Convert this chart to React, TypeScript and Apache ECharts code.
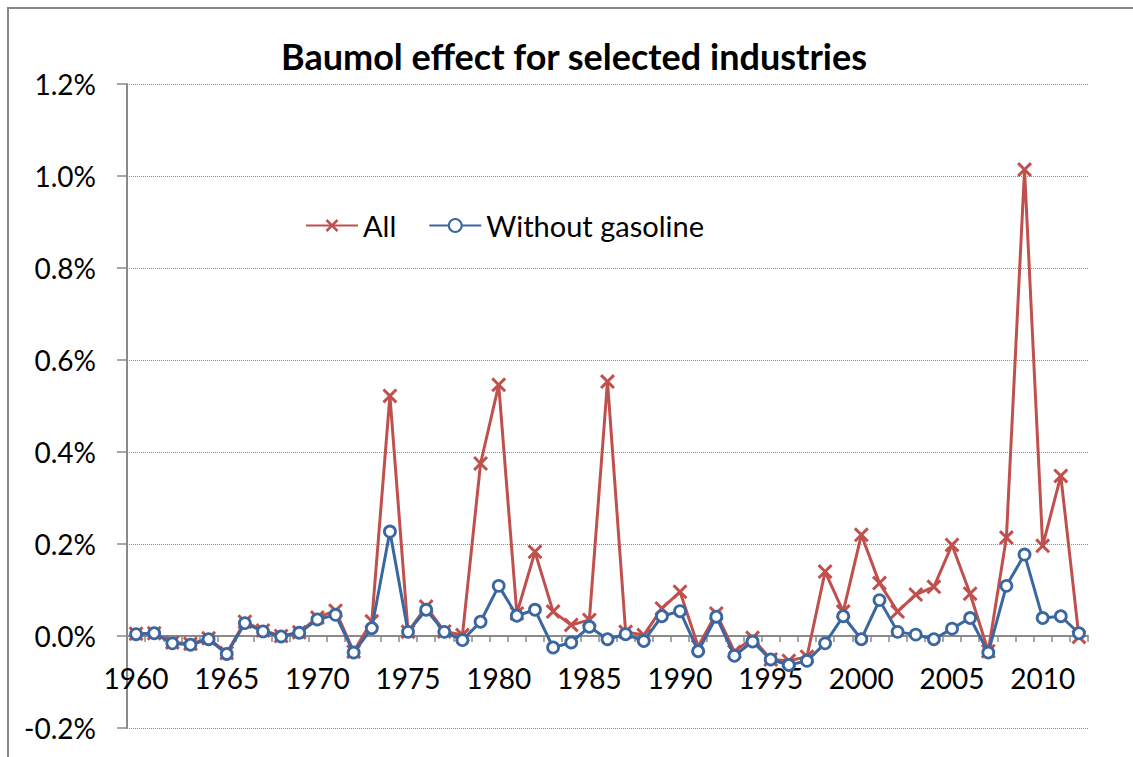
import React, { useEffect, useRef } from "react";
import * as echarts from "echarts";

const years: string[] = [];
for (let y = 1960; y <= 2012; y++) years.push(String(y));

const allValues = [
  0.005, 0.006, -0.014, -0.017, -0.005, -0.037, 0.031, 0.012, 0.0, 0.008,
  0.04, 0.055, -0.034, 0.032, 0.522, 0.009, 0.064, 0.01, 0.002, 0.375,
  0.546, 0.049, 0.183, 0.053, 0.024, 0.035, 0.553, 0.009, 0.002, 0.06,
  0.096, -0.023, 0.049, -0.034, -0.004, -0.051, -0.054, -0.045, 0.14, 0.053,
  0.22, 0.115, 0.053, 0.09, 0.107, 0.198, 0.092, -0.033, 0.214, 1.014,
  0.196, 0.348, -0.002,
];

const withoutGasoline = [
  0.004, 0.006, -0.016, -0.019, -0.007, -0.039, 0.028, 0.01, -0.001, 0.007,
  0.036, 0.046, -0.036, 0.017, 0.227, 0.009, 0.057, 0.009, -0.009, 0.031,
  0.109, 0.044, 0.057, -0.025, -0.014, 0.02, -0.007, 0.004, -0.011, 0.043,
  0.054, -0.033, 0.042, -0.043, -0.012, -0.051, -0.063, -0.054, -0.016, 0.043,
  -0.007, 0.078, 0.009, 0.003, -0.007, 0.016, 0.039, -0.036, 0.109, 0.177,
  0.039, 0.043, 0.006,
];

const seriesNames = ["All", "Without gasoline"];
const titleText = "Baumol effect for selected industries";

const RED = "#C0504D";
const BLUE = "#3A67A0";
const FONT = "Lato";

const X_SYMBOL =
  "path://M0,1.4L1.4,0L5,3.6L8.6,0L10,1.4L6.4,5L10,8.6L8.6,10L5,6.4L1.4,10L0,8.6L3.6,5Z";

// grid geometry: 0% lies 1/7 of the plot height above the bottom
const GRID_TOP = 84;
const GRID_BOTTOM = 29;
const PLOT_H = 757 - GRID_TOP - GRID_BOTTOM;

export default function App() {
  const ref = useRef<HTMLDivElement>(null);

  useEffect(() => {
    if (!ref.current) return;
    const chart = echarts.init(ref.current, null, { renderer: "svg" });
    chart.setOption({
      animation: false,
      backgroundColor: "#ffffff",
      textStyle: { fontFamily: FONT },
      title: {
        text: titleText,
        left: 276,
        top: 33,
        textStyle: {
          fontFamily: FONT,
          fontWeight: "bold",
          fontSize: 36,
          color: "#000000",
        },
      },
      graphic: [
        {
          type: "rect",
          shape: { x: 8, y: 8, width: 1300, height: 900 },
          style: { fill: "none", stroke: "#888888", lineWidth: 2 },
          silent: true,
          z: -1,
        },
      ],
      legend: {
        left: 300,
        top: 206,
        itemWidth: 52,
        itemHeight: 16,
        itemGap: 32,
        textStyle: { fontFamily: FONT, fontSize: 29, color: "#000000" },
        data: seriesNames,
      },
      grid: {
        left: 127,
        right: 45,
        top: GRID_TOP,
        bottom: GRID_BOTTOM,
        containLabel: false,
        outerBoundsMode: "none",
      },
      xAxis: {
        type: "category",
        data: years,
        boundaryGap: true,
        offset: -PLOT_H / 7,
        axisLine: { onZero: false, lineStyle: { color: "#8a8a8a", width: 2 } },
        axisTick: {
          show: true,
          interval: 0,
          length: 6,
          lineStyle: { color: "#8a8a8a", width: 1.5 },
        },
        axisLabel: {
          interval: 4,
          margin: 28,
          fontFamily: FONT,
          fontSize: 28,
          color: "#000000",
        },
        splitLine: { show: false },
      },
      yAxis: {
        type: "value",
        min: -0.2,
        max: 1.2,
        interval: 0.2,
        axisLine: { show: true, lineStyle: { color: "#8a8a8a", width: 2 } },
        axisTick: { show: true, length: 10, lineStyle: { color: "#8a8a8a", width: 1.5 } },
        axisLabel: {
          margin: 31,
          fontFamily: FONT,
          fontSize: 28,
          color: "#000000",
          formatter: (v: number) => v.toFixed(1) + "%",
        },
        splitLine: {
          show: true,
          lineStyle: { color: "#8c8c8c", type: "dotted", width: 1 },
        },
      },
      series: [
        {
          name: seriesNames[0],
          type: "line",
          data: allValues,
          symbol: X_SYMBOL,
          symbolSize: 15,
          showAllSymbol: true,
          lineStyle: { color: RED, width: 3 },
          itemStyle: { color: RED, borderWidth: 0 },
          z: 2,
        },
        {
          name: seriesNames[1],
          type: "line",
          data: withoutGasoline,
          symbol: "circle",
          symbolSize: 11,
          showAllSymbol: true,
          lineStyle: { color: BLUE, width: 3 },
          itemStyle: { color: "#ffffff", borderColor: BLUE, borderWidth: 2.8 },
          z: 3,
        },
      ],
    });
    return () => chart.dispose();
  }, []);

  return (
    <div
      ref={ref}
      style={{ position: "fixed", left: 0, top: 0, width: 1133, height: 757 }}
    />
  );
}
